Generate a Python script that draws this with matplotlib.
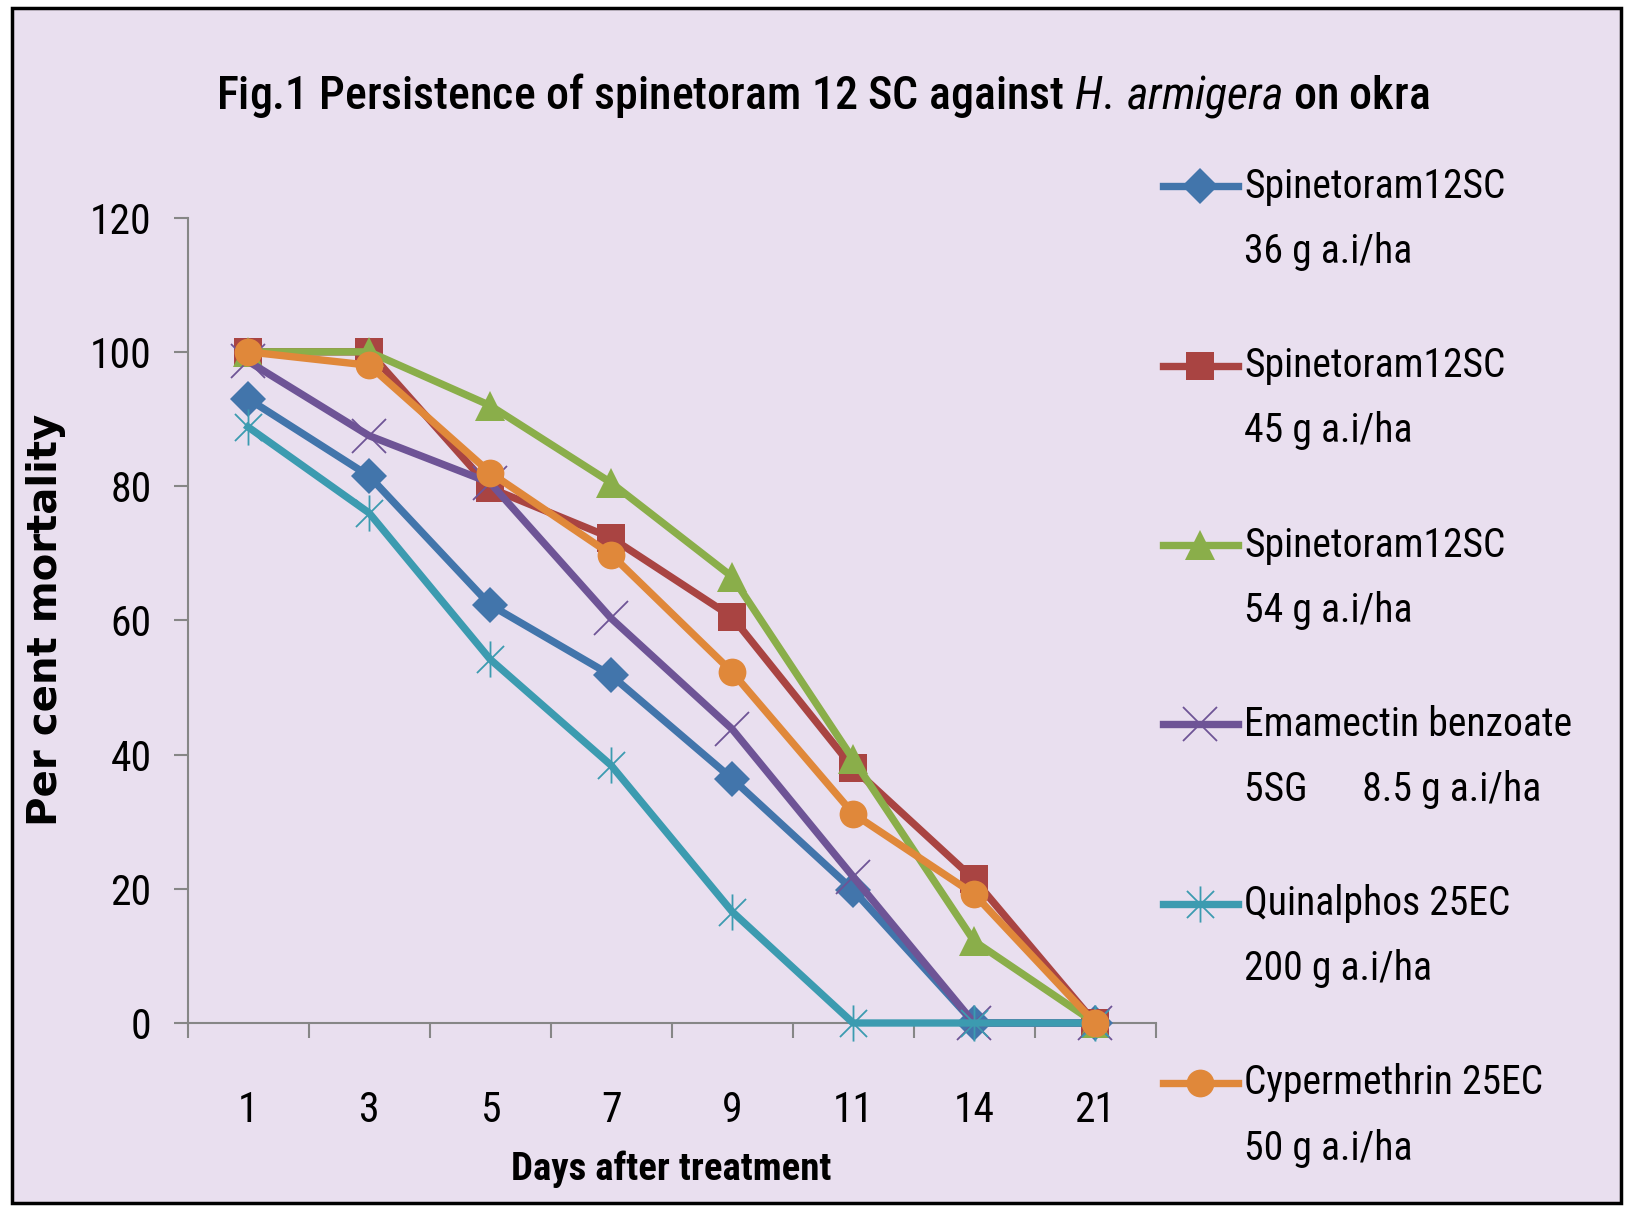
import matplotlib
matplotlib.use("Agg")
import matplotlib.pyplot as plt
from matplotlib.lines import Line2D
from matplotlib.patches import Rectangle
from matplotlib.path import Path
from matplotlib import font_manager as fm
import numpy as np

# data
days = ["1", "3", "5", "7", "9", "11", "14", "21"]
spin36 = [93.0, 81.5, 62.3, 51.8, 36.4, 19.8, 0, 0]
spin45 = [100, 100, 79.7, 72.3, 60.5, 38.0, 21.4, 0]
spin54 = [100, 100, 92.0, 80.5, 66.5, 39.3, 12.2, 0]
emam = [98.6, 87.5, 80.5, 60.3, 43.8, 21.8, 0, 0]
quin = [88.8, 76.0, 54.2, 38.4, 16.6, 0, 0, 0]
cyper = [100, 98.0, 82.0, 69.8, 52.3, 31.2, 19.2, 0]

labels_1 = ["Spinetoram12SC", "Spinetoram12SC", "Spinetoram12SC",
            "Emamectin benzoate", "Quinalphos 25EC", "Cypermethrin 25EC"]
labels_2 = ["36 g a.i/ha", "45 g a.i/ha", "54 g a.i/ha",
            "5SG      8.5 g a.i/ha", "200 g a.i/ha", "50 g a.i/ha"]

# fonts: pick an installed condensed family that has regular, italic and bold faces
faces = {}
for f in fm.fontManager.ttflist:
    faces.setdefault(f.name, set()).add((f.style, f.weight))

def usable(name):
    fs = faces.get(name, set())
    reg = any(s == "normal" and w in (400, "normal", "regular") for s, w in fs)
    ita = any(s == "italic" for s, w in fs)
    bold = any(s == "normal" and w in (700, "bold") for s, w in fs)
    return reg and ita and bold

narrow = "Liberation Sans"
for c in ["Roboto Condensed", "PT Sans Narrow", "Fira Sans Condensed", "Archivo Narrow",
          "Encode Sans Condensed", "Asap Condensed", "IBM Plex Sans Condensed",
          "Sofia Sans Condensed", "Barlow Semi Condensed", "Liberation Sans Narrow"]:
    if usable(c):
        narrow = c
        break

plt.rcParams['font.family'] = [narrow, 'DejaVu Sans']
plt.rcParams['mathtext.fontset'] = 'custom'
plt.rcParams['mathtext.rm'] = narrow
plt.rcParams['mathtext.it'] = narrow + ':italic'

# asterisk marker (Excel style star)
ast = Path([(0, -1), (0, 1), (-0.75, -0.75), (0.75, 0.75), (-0.75, 0.75), (0.75, -0.75)],
           [Path.MOVETO, Path.LINETO, Path.MOVETO, Path.LINETO, Path.MOVETO, Path.LINETO])

series = [spin36, spin45, spin54, emam, quin, cyper]
colors = ["#4275AB", "#A94442", "#8AAE4A", "#6E5496", "#3C9BB0", "#E0883A"]
markers = ["D", "s", "^", "x", ast, "o"]
msizes = [18, 20, 21, 24, 26, 20]
medge = [0, 0, 0, 1.3, 1.3, 0]

W, H = 1625, 1206
fig = plt.figure(figsize=(W / 100, H / 100), dpi=100)
fig.set_facecolor("white")
fig.add_artist(Rectangle((12 / W, 3 / H), (1621 - 12) / W, (1198 - 3) / H,
                         transform=fig.transFigure, facecolor="#E9DFEF",
                         edgecolor="black", linewidth=2.5, zorder=-10))

ax = fig.add_axes([187.6 / W, (H - 1023) / H, 968 / W, 805.4 / H])
ax.set_facecolor("none")

x = np.arange(len(days))
for i in range(len(series)):
    ax.plot(x, series[i], color=colors[i], linewidth=5.3, marker=markers[i],
            markersize=msizes[i], markeredgewidth=medge[i],
            markerfacecolor=colors[i], markeredgecolor=colors[i], zorder=3 + i,
            clip_on=False)

ax.set_xlim(-0.5, len(days) - 0.5)
ax.set_ylim(0, 120)
ax.set_xticks(x)
ax.set_xticklabels(days)
ax.set_xticks(np.arange(-0.5, len(days)), minor=True)
ax.set_yticks(np.arange(0, 121, 20))
ax.tick_params(axis="x", which="major", length=0, pad=48, labelsize=30)
ax.tick_params(axis="x", which="minor", length=11, width=1.5, color="#868686")
ax.tick_params(axis="y", length=10, width=1.5, color="#868686", pad=16, labelsize=30)
for s in ["top", "right"]:
    ax.spines[s].set_visible(False)
for s in ["left", "bottom"]:
    ax.spines[s].set_color("#868686")
    ax.spines[s].set_linewidth(1.5)

ax.set_xlabel("Days after treatment", fontsize=28, fontweight="bold", va="center")
ax.xaxis.set_label_coords(0.5, -0.181)
ax.set_ylabel("Per cent mortality", fontsize=29, fontweight="bold",
              family=["DejaVu Sans"], va="center")
ax.yaxis.set_label_coords(-0.146, 0.5)

fig.text(823 / W, 1 - 96 / H,
         r"Fig.1 Persistence of spinetoram 12 SC against $\mathit{H.\,armigera}$ on okra",
         ha="center", va="center", fontsize=33, fontweight="medium")

# legend, drawn by hand so the key sits on the first text line
y0, step, gap = 186.5, 179.3, 65
for i in range(len(series)):
    yy = 1 - (y0 + i * step) / H
    fig.add_artist(Line2D([1163 / W, 1238 / W], [yy, yy], transform=fig.transFigure,
                          color=colors[i], linewidth=5.3))
    fig.add_artist(Line2D([1200 / W], [yy], transform=fig.transFigure, color=colors[i],
                          marker=markers[i], markersize=msizes[i],
                          markeredgewidth=medge[i], markerfacecolor=colors[i],
                          markeredgecolor=colors[i]))
    fig.text(1244 / W, yy, labels_1[i], fontsize=28.5, va="center", ha="left")
    fig.text(1244 / W, yy - gap / H, labels_2[i], fontsize=28.5, va="center", ha="left")

fig.savefig("out.png", dpi=100)
